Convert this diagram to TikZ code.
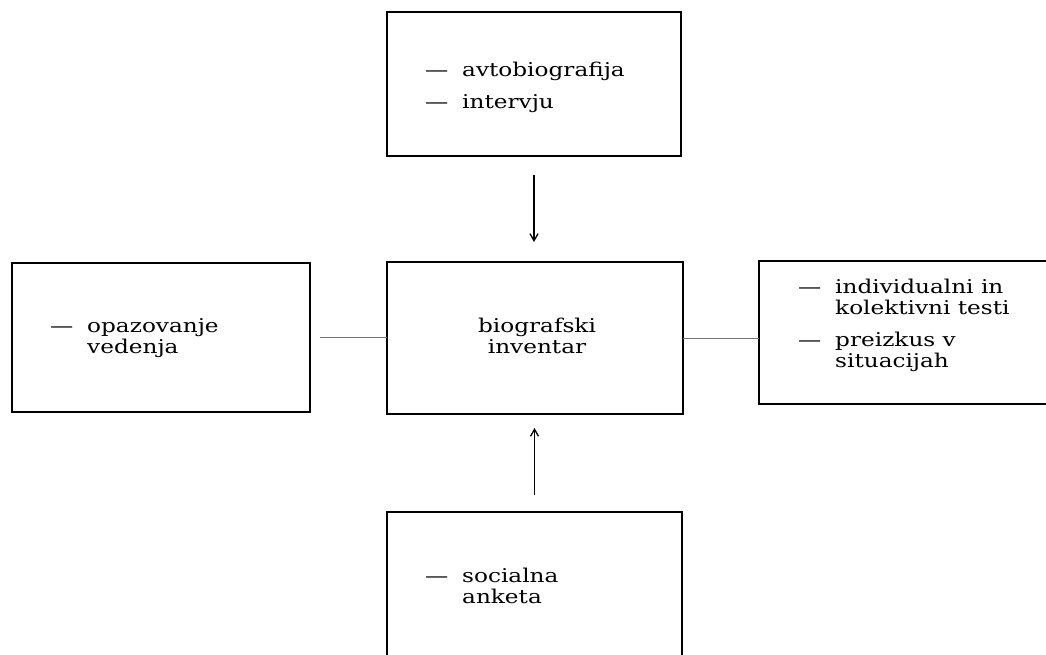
\documentclass[tikz,border=0pt]{standalone}
\usepackage{fontspec}
\newfontfamily\tw[FakeStretch=1.22]{DejaVu Serif}
\usetikzlibrary{arrows.meta}
\newcommand\dsh{\makebox[37pt][l]{—}}
\newcommand\hang{\hspace*{37pt}}
\begin{document}
\begin{tikzpicture}[x=1pt,y=-1pt,
  frame/.style={draw, line width=1.6pt, anchor=north west, inner sep=0pt, outer sep=0pt},
  openframe/.style={anchor=north west, inner sep=0pt, outer sep=0pt},
  txt/.style={font=\tw\fontsize{19}{21}\selectfont, align=left, inner sep=0pt, anchor=base west},
  link/.style={draw=black!55, line width=1pt},
  flow/.style={line width=1.3pt, -{Straight Barb[length=7pt,width=8pt]}}]
\useasboundingbox (0,0) rectangle (1046,654);
\fill[white] (0,0) rectangle (1046,654);
% boxes
\node[frame, minimum width=294pt, minimum height=144pt] (top) at (387,12) {};
\node[frame, minimum width=296pt, minimum height=152pt] (mid) at (387,262) {};
\node[frame, minimum width=298pt, minimum height=149pt] (left) at (12,263) {};
\node[openframe, minimum width=300pt, minimum height=143pt] (right) at (759,261) {};
\node[openframe, minimum width=295pt, minimum height=150pt] (bot) at (387,512) {};
\draw[line width=1.6pt] (right.north east) -- (right.north west) -- (right.south west) -- (right.south east);
\draw[line width=1.6pt] (bot.south west) -- (bot.north west) -- (bot.north east) -- (bot.south east);
% texts (anchored at the baseline of the last line)
\node[txt] (t1) at (425,108) {\dsh avtobiografija\\[11pt]\dsh intervju};
\node[txt] (t2) at (50,353) {\dsh opazovanje\\\hang vedenja};
\node[txt, align=center, anchor=base] (t3) at (537,353) {biografski\\inventar};
\node[txt] (t4) at (798,367) {\dsh individualni in\\\hang kolektivni testi\\[11pt]\dsh preizkus v\\\hang situacijah};
\node[txt] (t5) at (425,603) {\dsh socialna\\\hang anketa};
% connectors
\draw[flow, shorten <=19pt, shorten >=20pt] (top.south) -- (top.south |- mid.north);
\draw[flow, shorten <=17pt, shorten >=14pt] (bot.north) -- (bot.north |- mid.south);
\draw[link, shorten <=10pt] (left.east) -- (mid.west |- left.east);
\draw[link] (mid.east) -- (right.west |- mid.east);
\end{tikzpicture}
\end{document}
